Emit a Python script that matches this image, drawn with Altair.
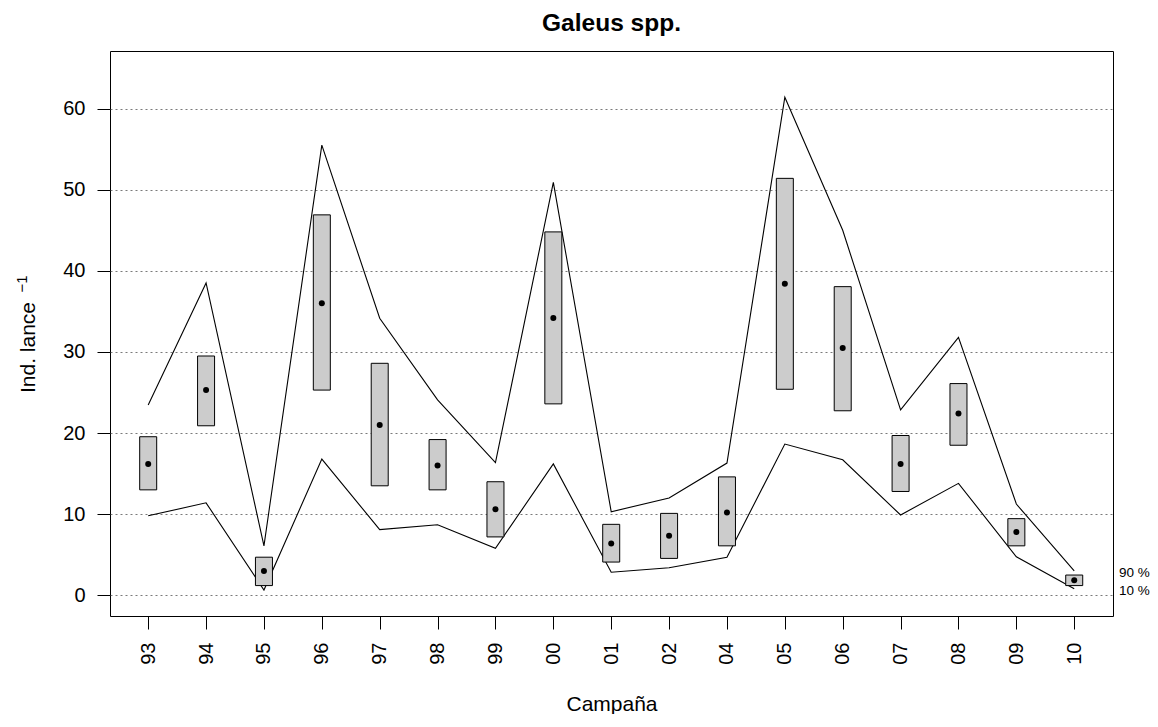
import altair as alt
import pandas as pd

campaigns = ["93", "94", "95", "96", "97", "98", "99", "00", "01", "02",
             "04", "05", "06", "07", "08", "09", "10"]
mean_vals = [16.2, 25.3, 3.0, 36.0, 21.0, 16.0, 10.6, 34.2, 6.4, 7.35,
             10.2, 38.4, 30.5, 16.2, 22.4, 7.8, 1.85]
box_low = [13.0, 20.9, 1.2, 25.3, 13.5, 13.0, 7.2, 23.6, 4.1, 4.55,
           6.1, 25.4, 22.75, 12.8, 18.5, 6.1, 1.2]
box_high = [19.55, 29.5, 4.7, 46.9, 28.6, 19.2, 14.0, 44.8, 8.75, 10.1,
            14.6, 51.4, 38.05, 19.7, 26.1, 9.45, 2.5]
q90 = [23.45, 38.5, 6.1, 55.5, 34.15, 24.1, 16.35, 50.9, 10.3, 12.0,
       16.3, 61.4, 45.0, 22.85, 31.8, 11.25, 3.0]
q10 = [9.8, 11.4, 0.65, 16.8, 8.1, 8.7, 5.8, 16.2, 2.85, 3.4,
       4.7, 18.65, 16.7, 9.9, 13.8, 4.75, 0.8]
end_labels = ["90 %", "10 %"]
title_text = ["Galeus spp."]
y_title_sup = ["\u22121"]

df = pd.DataFrame({
    "idx": list(range(len(campaigns))),
    "camp": campaigns,
    "mean": mean_vals,
    "lo": box_low,
    "hi": box_high,
    "q90": q90,
    "q10": q10,
})
lab_df = pd.DataFrame({"label": end_labels, "val": [q90[-1], q10[-1]]})

W, H = 1003, 565
FONT = "Liberation Sans"

label_arr = "[" + ",".join("'" + c + "'" for c in campaigns) + "]"

xscale = alt.Scale(domain=[-0.66, 16.67], nice=False, zero=False, padding=0)
yscale = alt.Scale(domain=[-2.55, 67.1], nice=False, zero=False, padding=0)

x_enc = alt.X(
    "idx:Q", scale=xscale, title="Campaña",
    axis=alt.Axis(values=list(range(len(campaigns))),
                  labelExpr=label_arr + "[datum.value]",
                  labelAngle=270, labelAlign="right", labelBaseline="middle",
                  labelPadding=13, tickSize=13, grid=False, domain=False,
                  titleY=94, titleBaseline="alphabetic", labelOverlap=False),
)
YT = "Ind. lance"
y_axis = alt.Axis(values=[0, 10, 20, 30, 40, 50, 60], grid=True,
                  gridDash=[2, 3], gridColor="#7a7a7a", gridWidth=1,
                  tickSize=13, labelPadding=12, domain=False,
                  titleX=-82, titleY=296, titleAngle=270,
                  titleAlign="center", titleBaseline="middle")

line90 = alt.Chart(df).mark_line(color="black", strokeWidth=1.1).encode(
    x=x_enc, y=alt.Y("q90:Q", scale=yscale, axis=y_axis, title=YT))
line10 = alt.Chart(df).mark_line(color="black", strokeWidth=1.1).encode(
    x=x_enc, y=alt.Y("q10:Q", scale=yscale, axis=y_axis, title=YT))
boxes = alt.Chart(df).mark_bar(size=17, fill="#cccccc", stroke="black",
                               strokeWidth=1).encode(
    x=x_enc, y=alt.Y("lo:Q", scale=yscale, axis=y_axis, title=YT),
    y2="hi:Q")
points = alt.Chart(df).mark_point(filled=True, size=36, color="black",
                                  opacity=1).encode(
    x=x_enc, y=alt.Y("mean:Q", scale=yscale, axis=y_axis, title=YT))
texts = alt.Chart(lab_df).mark_text(align="left", baseline="middle",
                                    fontSize=13.5, dy=2.5, font=FONT,
                                    color="black").encode(
    x=alt.value(W + 6),
    y=alt.Y("val:Q", scale=yscale, axis=y_axis, title=YT),
    text="label:N")
title_mark = alt.Chart(pd.DataFrame({"t": title_text})).mark_text(
    align="center", baseline="alphabetic", fontSize=24.5, fontWeight="bold",
    font=FONT, color="black").encode(
    x=alt.value(W / 2), y=alt.value(-20.5), text="t:N")
sup_mark = alt.Chart(pd.DataFrame({"t": y_title_sup})).mark_text(
    align="center", baseline="middle", fontSize=15, angle=270,
    font=FONT, color="black").encode(
    x=alt.value(-88), y=alt.value(233), text="t:N")

chart = alt.layer(line90, line10, boxes, points, texts, title_mark,
                  sup_mark).properties(
    width=W, height=H,
    autosize=alt.AutoSizeParams(type="none"),
    padding={"left": 102, "top": 43, "right": 37, "bottom": 98},
).configure_view(stroke="black", strokeWidth=1).configure_axis(
    labelFont=FONT, titleFont=FONT, labelFontSize=20, titleFontSize=21,
    titleFontWeight="normal", labelColor="black", titleColor="black",
    tickColor="black", tickWidth=1,
)

chart.save("out.html", embed_options={"renderer": "svg", "actions": False})
